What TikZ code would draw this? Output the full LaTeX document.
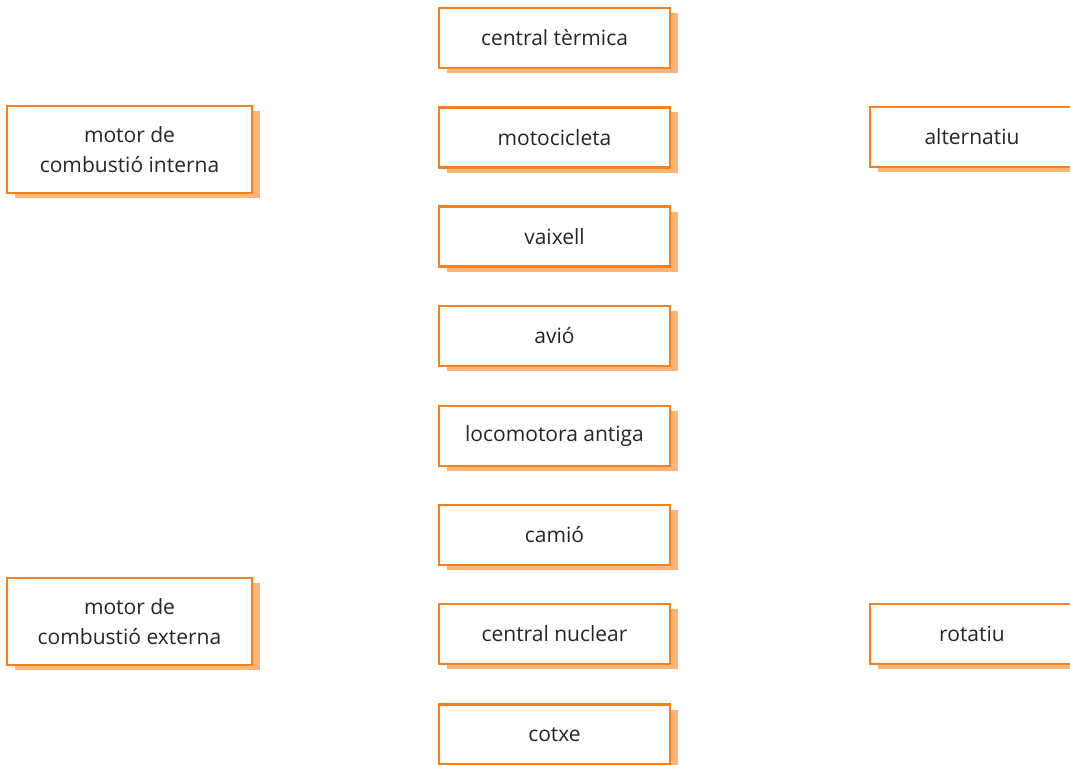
\documentclass[tikz,border=0pt]{standalone}
\usepackage{fontspec}
\setmainfont{Open Sans}
\usetikzlibrary{shadows}
\definecolor{boxorange}{HTML}{F58220}
\definecolor{shadoworange}{HTML}{FDB478}
\tikzset{
  box/.style={draw=boxorange, line width=2.5pt, fill=white, align=center,
    font=\fontsize{21pt}{30pt}\selectfont, text=black!85,
    inner sep=0pt,
    drop shadow={shadow xshift=8pt, shadow yshift=-5pt, fill=shadoworange, opacity=1}},
  mid/.style={box, minimum width=231pt, minimum height=60pt},
  side/.style={box, minimum width=245pt, minimum height=87pt},
  right/.style={box, minimum width=204pt, minimum height=60pt}
}
\begin{document}
\begin{tikzpicture}[x=1pt,y=-1pt]
\useasboundingbox (0,0) rectangle (1070,765);
\clip (0,0) rectangle (1070,765);
\node[mid] (termica) at (554.5,38) {central tèrmica};
\node[mid] (moto) at (554.5,137.5) {motocicleta};
\node[mid] (vaixell) at (554.5,236.5) {vaixell};
\node[mid] (avio) at (554.5,336) {avió};
\node[mid] (loco) at (554.5,436) {locomotora antiga};
\node[mid] (camio) at (554.5,535) {camió};
\node[mid] (nuclear) at (554.5,634) {central nuclear};
\node[mid] (cotxe) at (554.5,734.5) {cotxe};
\node[side] (interna) at (129.5,149.5) {motor de\\combustió interna};
\node[side] (externa) at (129.5,621.5) {motor de\\combustió externa};
\node[right] (alternatiu) at (972,137) {alternatiu};
\node[right] (rotatiu) at (972,634) {rotatiu};
\end{tikzpicture}
\end{document}
